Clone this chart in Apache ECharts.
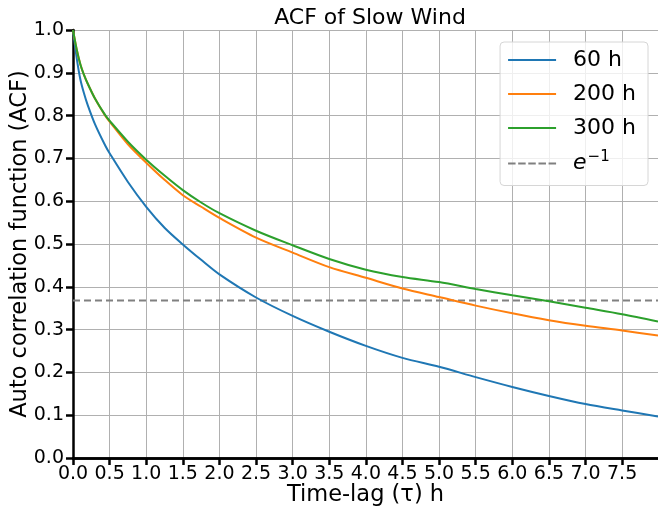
<!DOCTYPE html>
<html>
<head>
<meta charset="utf-8">
<script src="https://cdn.jsdelivr.net/npm/echarts@6/dist/echarts.min.js"></script>
<style>
  html, body { margin: 0; padding: 0; background: #fff; }
  #main { width: 658px; height: 512px; }
</style>
</head>
<body>
<div id="main"></div>
<script>
const lags = [0, 0.05, 0.1, 0.15, 0.2, 0.3, 0.44, 0.5, 0.75, 1.0, 1.25, 1.5, 1.75, 2.0, 2.5, 3.0, 3.5, 4.0, 4.5, 5.0, 5.5, 6.0, 6.5, 7.0, 7.5, 7.99];

const acf60  = [1.0, 0.935, 0.885, 0.852, 0.825, 0.78, 0.73, 0.712, 0.645, 0.587, 0.538, 0.499, 0.463, 0.429, 0.375, 0.332, 0.295, 0.262, 0.234, 0.213, 0.189, 0.166, 0.145, 0.126, 0.111, 0.097];
const acf200 = [1.0, 0.955, 0.92, 0.895, 0.875, 0.84, 0.8, 0.786, 0.733, 0.69, 0.65, 0.614, 0.587, 0.561, 0.515, 0.48, 0.446, 0.421, 0.396, 0.376, 0.356, 0.338, 0.322, 0.309, 0.298, 0.286];
const acf300 = [1.0, 0.955, 0.92, 0.895, 0.875, 0.84, 0.801, 0.788, 0.739, 0.697, 0.66, 0.626, 0.597, 0.572, 0.531, 0.497, 0.465, 0.44, 0.423, 0.411, 0.395, 0.38, 0.366, 0.351, 0.336, 0.319];

const eLevel = Math.exp(-1);
const xMin = 0, xMax = 7.99, xStep = 0.5;
const yMin = 0, yMax = 1, yStep = 0.1;

const font = 'DejaVu Sans';

// legend handles: a plain bar and a dashed bar
const solidIcon = 'rect';
const dashedIcon = 'path://M0,0h7.5v2h-7.5z M10.1,0h7.5v2h-7.5z M20.2,0h7.5v2h-7.5z M30.4,0h7.5v2h-7.5z M40.5,0h7.5v2h-7.5z';

function pairs(ys) {
  return lags.map((x, i) => [x, ys[i]]);
}

function curve(name, color, ys) {
  return {
    name: name,
    type: 'line',
    data: pairs(ys),
    showSymbol: false,
    symbol: 'none',
    smooth: 0.3,
    lineStyle: { color: color, width: 2 },
    itemStyle: { color: color },
    silent: true
  };
}

const myChart = echarts.init(document.getElementById('main'));

const option = {
  animation: false,
  backgroundColor: '#fff',
  title: {
    text: 'ACF of Slow Wind',
    left: 365,
    top: 2,
    textAlign: 'center',
    textStyle: { fontFamily: font, fontSize: 22, fontWeight: 'normal', color: '#000' }
  },
  grid: { left: 73, top: 30, right: 0, bottom: 54, outerBoundsMode: 'none', containLabel: false },
  legend: {
    orient: 'vertical',
    right: 10,
    top: 42,
    itemWidth: 48,
    itemHeight: 2,
    itemGap: 10,
    padding: [6, 12, 10, 8],
    backgroundColor: 'rgba(255,255,255,0.8)',
    borderColor: '#d6d6d6',
    borderWidth: 1,
    borderRadius: 4,
    data: [
      { name: '60 h', icon: solidIcon },
      { name: '200 h', icon: solidIcon },
      { name: '300 h', icon: solidIcon },
      { name: 'e^-1', icon: dashedIcon }
    ],
    formatter: function (n) {
      return n === 'e^-1' ? '{it|e}{sup|−1}' : n;
    },
    textStyle: {
      fontFamily: font,
      fontSize: 22,
      lineHeight: 24,
      color: '#000',
      padding: [0, 0, 0, 12],
      rich: {
        it: { fontFamily: font, fontSize: 22, fontStyle: 'italic', color: '#000', lineHeight: 24 },
        sup: { fontFamily: font, fontSize: 15, color: '#000', padding: [0, 0, 12, 1] }
      }
    }
  },
  xAxis: [{
    type: 'value',
    min: xMin,
    max: xMax,
    interval: xStep,
    name: 'Time-lag (τ) h',
    nameLocation: 'middle',
    nameGap: 26,
    nameMoveOverlap: false,
    nameTextStyle: { fontFamily: font, fontSize: 22.5, color: '#000' },
    axisLine: { show: true, onZero: false, lineStyle: { color: '#000', width: 2.5 } },
    axisTick: { show: true, length: 7, lineStyle: { color: '#000', width: 2.5 } },
    axisLabel: {
      fontFamily: font, fontSize: 19, color: '#000', margin: 7,
      showMaxLabel: false,
      formatter: v => v.toFixed(1)
    },
    splitLine: { show: true, lineStyle: { color: '#b0b0b0', width: 1 } }
  }, {
    type: 'value',
    position: 'top',
    min: xMin,
    max: xMax,
    axisLine: { show: true, lineStyle: { color: '#000', width: 2.5 } },
    axisTick: { show: false },
    axisLabel: { show: false },
    splitLine: { show: false }
  }],
  yAxis: {
    type: 'value',
    min: yMin,
    max: yMax,
    interval: yStep,
    name: 'Auto correlation function (ACF)',
    nameLocation: 'middle',
    nameGap: 41,
    nameMoveOverlap: false,
    nameTextStyle: { fontFamily: font, fontSize: 22.5, color: '#000' },
    axisLine: { show: true, lineStyle: { color: '#000', width: 2.5 } },
    axisTick: { show: true, length: 7, lineStyle: { color: '#000', width: 2.5 } },
    axisLabel: {
      fontFamily: font, fontSize: 19, color: '#000', margin: 9,
      formatter: v => v.toFixed(1)
    },
    splitLine: { show: true, lineStyle: { color: '#b0b0b0', width: 1 } }
  },
  series: [
    curve('60 h', '#1f77b4', acf60),
    curve('200 h', '#ff7f0e', acf200),
    curve('300 h', '#2ca02c', acf300),
    {
      name: 'e^-1',
      type: 'line',
      data: [[xMin, eLevel], [xMax, eLevel]],
      showSymbol: false,
      symbol: 'none',
      silent: true,
      z: 1,
      lineStyle: { color: '#808080', width: 2, type: [7, 4] },
      itemStyle: { color: '#808080' }
    }
  ]
};

myChart.setOption(option);
</script>
</body>
</html>
